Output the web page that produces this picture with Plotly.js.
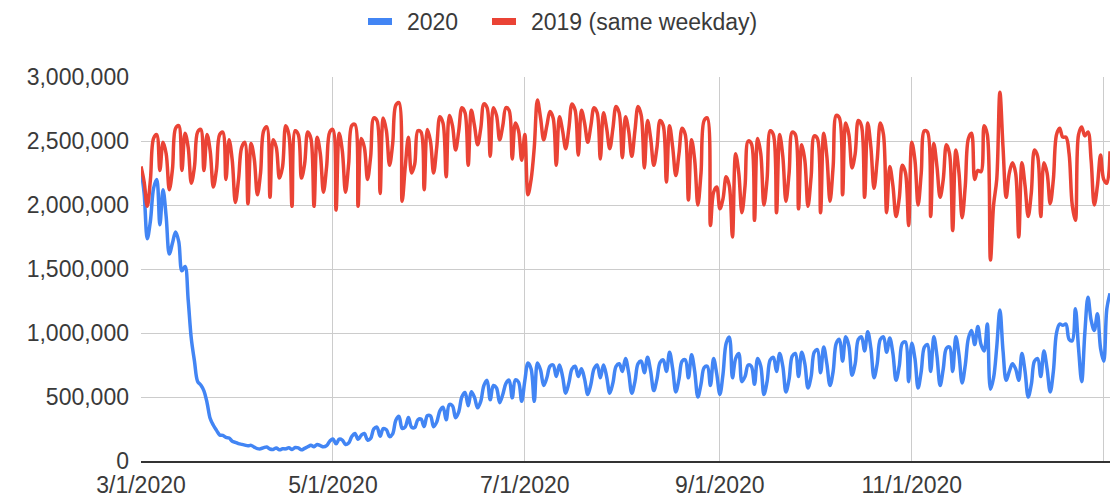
<!DOCTYPE html>
<html>
<head>
<meta charset="utf-8">
<script src="https://cdn.plot.ly/plotly-3.0.1.min.js"></script>
<style>
  html, body { margin: 0; padding: 0; background: #fff; }
  #chart { width: 1115px; height: 498px; }
</style>
</head>
<body>
<div id="chart"></div>
<script>
// Series names
const series2020Name = '2020';
const series2019Name = '2019 (same weekday)';

// Months covered (daily values, starting on day 1 of each month)
const months = ['2020-03','2020-04','2020-05','2020-06','2020-07','2020-08','2020-09','2020-10','2020-11','2020-12','2021-01'];

// 2020 daily checkpoint throughput, by month
const pax2020Mar = [2280522,2089641,1736393,1877401,2130015,2198517,1844811,2119867,1909363,1617220,1702686,1788456,1714372,1485553,1519192,1257823,953699,779631,620883,593167,548132,454516,331431,279018,239234,203858,199644,184027,180002,154080,146348];
const pax2020Apr = [136023,129763,124021,118302,122029,108310,97130,94931,104090,108977,93645,90510,102184,87534,95085,95000,103000,90000,105000,102000,87000,99000,111000,123000,112000,129000,120000,111000,120000,155000];
const pax2020May = [171563,134261,170254,163205,128556,140409,190863,215444,169580,200815,215645,163692,176667,250467,264843,193340,253190,244176,190477,212580,318449,348673,254239,267451,340769,264896,261170,321776,327133,268867,353261];
const pax2020Jun = [353016,267742,304436,391882,419675,322097,441255,430414,338382,383986,502209,534528,432317,540760,496897,416032,467211,590456,629954,478000,590000,570000,456000,520000,607000,632000,494000,633000,616000,467000];
const pax2020Jul = [627000,765000,719000,466000,765000,710000,590000,650000,740000,750000,660000,750000,660000,530000,610000,720000,740000,660000,720000,640000,520000,600000,720000,750000,650000,750000,660000,530000,610000,740000,760000];
const pax2020Aug = [700000,800000,690000,530000,620000,760000,780000,690000,810000,700000,550000,640000,770000,790000,700000,850000,720000,540000,640000,780000,790000,650000,830000,700000,500000,600000,730000,740000,590000,800000,680000];
const pax2020Sep = [520000,680000,920000,968000,650000,800000,840000,620000,660000,750000,740000,600000,800000,740000,520000,620000,790000,810000,700000,840000,740000,540000,640000,820000,840000,660000,850000,760000,570000,660000];
const pax2020Oct = [850000,870000,690000,890000,760000,590000,700000,920000,950000,780000,970000,900000,670000,760000,950000,970000,860000,1010000,880000,650000,760000,950000,970000,850000,960000,840000,630000,740000,920000,930000,620000];
const pax2020Nov = [920000,800000,570000,700000,890000,910000,700000,970000,820000,590000,720000,880000,890000,700000,970000,830000,610000,750000,960000,1020000,910000,1050000,910000,860000,1070000,560000,650000,890000,1180000,860000];
const pax2020Dec = [630000,700000,760000,720000,630000,840000,700000,500000,600000,780000,800000,660000,860000,720000,540000,700000,1000000,1070000,1060000,1070000,950000,940000,1190000,880000,620000,1000000,1280000,1100000,1020000,1150000,880000];
const pax2020Jan = [780000,1190000,1310000];

// 2019 throughput on the same weekday, by month of the 2020 date
const pax2019Mar = [2301000,2180000,1990000,2200000,2520000,2550000,2270000,2490000,2400000,2120000,2280000,2600000,2620000,2270000,2560000,2450000,2170000,2300000,2570000,2590000,2270000,2550000,2420000,2140000,2280000,2550000,2570000,2200000,2510000,2350000,2020000];
const pax2019Apr = [2200000,2450000,2490000,2010000,2480000,2360000,2080000,2250000,2580000,2610000,2060000,2510000,2450000,2210000,2300000,2620000,2550000,1990000,2580000,2550000,2210000,2320000,2570000,2520000,1990000,2530000,2400000,2100000,2300000,2570000];
const pax2019May = [2590000,1960000,2560000,2420000,2100000,2320000,2620000,2630000,1990000,2520000,2450000,2200000,2380000,2680000,2660000,2090000,2680000,2580000,2310000,2480000,2780000,2800000,2030000,2300000,2530000,2250000,2320000,2580000,2570000,2120000,2590000];
const pax2019Jun = [2500000,2250000,2450000,2690000,2640000,2220000,2700000,2620000,2430000,2580000,2760000,2720000,2310000,2740000,2620000,2470000,2600000,2790000,2760000,2380000,2760000,2700000,2510000,2620000,2760000,2740000,2360000,2640000,2580000,2350000];
const pax2019Jul = [2550000,2080000,2200000,2450000,2820000,2680000,2510000,2620000,2730000,2680000,2310000,2690000,2580000,2440000,2600000,2790000,2740000,2390000,2740000,2640000,2490000,2620000,2760000,2720000,2360000,2720000,2600000,2440000,2600000,2770000,2720000];
const pax2019Aug = [2370000,2690000,2580000,2380000,2580000,2770000,2700000,2290000,2660000,2520000,2310000,2450000,2660000,2620000,2180000,2620000,2450000,2230000,2400000,2600000,2550000,2040000,2510000,2350000,2000000,2250000,2660000,2680000,1840000,2100000,2140000];
const pax2019Sep = [1970000,2050000,2220000,2150000,1750000,2400000,2250000,1940000,2150000,2500000,2480000,1880000,2520000,2400000,2000000,2200000,2580000,2550000,1940000,2550000,2380000,2030000,2250000,2570000,2550000,1970000,2470000,2350000,1990000,2220000];
const pax2019Oct = [2540000,2520000,1940000,2560000,2380000,2030000,2300000,2700000,2680000,2080000,2640000,2550000,2290000,2400000,2660000,2620000,2060000,2640000,2450000,2130000,2350000,2640000,2550000,1940000,2300000,2150000,1910000,2050000,2310000,2250000,1840000];
const pax2019Nov = [2490000,2350000,2000000,2250000,2580000,2570000,1910000,2480000,2300000,2060000,2200000,2470000,2400000,1800000,2430000,2250000,1900000,2150000,2520000,2560000,2200000,2270000,2260000,2620000,2550000,1570000,2000000,2200000,2880000,2450000];
const pax2019Dec = [2060000,2250000,2330000,2250000,1750000,2330000,2150000,1910000,2100000,2430000,2380000,1910000,2330000,2250000,2010000,2200000,2550000,2600000,2530000,2530000,2400000,2000000,1880000,2550000,2610000,2540000,2570000,2350000,2000000,2150000,2390000];
const pax2019Jan = [2200000,2170000,2420000];

// X-axis tick labels
const tickDates  = ['2020-03-01','2020-05-01','2020-07-01','2020-09-01','2020-11-01','2021-01-01'];
const tickLabels = ['3/1/2020','5/1/2020','7/1/2020','9/1/2020','11/1/2020',''];

const months2020 = [pax2020Mar,pax2020Apr,pax2020May,pax2020Jun,pax2020Jul,pax2020Aug,pax2020Sep,pax2020Oct,pax2020Nov,pax2020Dec,pax2020Jan];
const months2019 = [pax2019Mar,pax2019Apr,pax2019May,pax2019Jun,pax2019Jul,pax2019Aug,pax2019Sep,pax2019Oct,pax2019Nov,pax2019Dec,pax2019Jan];

function flatten(monthArrays) {
  const x = [], y = [];
  monthArrays.forEach((arr, mi) => {
    arr.forEach((v, di) => {
      const day = String(di + 1).padStart(2, '0');
      x.push(months[mi] + '-' + day);
      y.push(v);
    });
  });
  return {x, y};
}

const d2020 = flatten(months2020);
const d2019 = flatten(months2019);

const BLUE = '#4285F4';
const RED = '#EA4335';
const FONT = 'Liberation Sans, Arial, sans-serif';
const TXT = '#3a3a3a';

const traces = [
  { x: d2020.x, y: d2020.y, type: 'scatter', mode: 'lines', name: series2020Name,
    line: { color: BLUE, width: 3.5, shape: 'spline', smoothing: 1 }, showlegend: false, hoverinfo: 'x+y' },
  { x: d2019.x, y: d2019.y, type: 'scatter', mode: 'lines', name: series2019Name,
    line: { color: RED, width: 3.5, shape: 'spline', smoothing: 1 }, showlegend: false, hoverinfo: 'x+y' }
];

// legend helpers (pixel -> paper coordinates)
const L = 141, R = 5, T = 77, B = 37, W = 1115, H = 498;
const PW = W - L - R, PH = H - T - B;
const px = v => (v - L) / PW;
const py = v => (H - B - v) / PH;

const layout = {
  width: W, height: H,
  margin: { l: L, r: R, t: T, b: B, pad: 0 },
  paper_bgcolor: '#ffffff', plot_bgcolor: '#ffffff',
  font: { family: FONT, size: 23, color: TXT },
  showlegend: false,
  xaxis: {
    type: 'date',
    range: ['2020-03-01', '2021-01-03'],
    tickmode: 'array', tickvals: tickDates, ticktext: tickLabels,
    showgrid: true, gridcolor: '#cccccc', gridwidth: 1,
    showline: true, linecolor: '#333333', linewidth: 2,
    ticks: '', ticklabelstandoff: 2,
    tickfont: { family: FONT, size: 23, color: TXT },
    zeroline: false, fixedrange: true
  },
  yaxis: {
    range: [0, 3000000],
    tickmode: 'linear', tick0: 0, dtick: 500000,
    tickformat: ',d',
    showgrid: true, gridcolor: '#cccccc', gridwidth: 1,
    showline: false, zeroline: false,
    ticks: '', ticklabelstandoff: 11,
    tickfont: { family: FONT, size: 23, color: TXT },
    fixedrange: true
  },
  shapes: [
    { type: 'rect', xref: 'paper', yref: 'paper', x0: px(368), x1: px(392), y0: py(25), y1: py(18),
      fillcolor: BLUE, line: { width: 0 }, layer: 'above' },
    { type: 'rect', xref: 'paper', yref: 'paper', x0: px(492), x1: px(516), y0: py(25), y1: py(18),
      fillcolor: RED, line: { width: 0 }, layer: 'above' }
  ],
  annotations: [
    { xref: 'paper', yref: 'paper', x: px(405), y: py(21.5), xanchor: 'left', yanchor: 'middle',
      text: series2020Name, showarrow: false, font: { family: FONT, size: 23, color: TXT } },
    { xref: 'paper', yref: 'paper', x: px(529), y: py(21.5), xanchor: 'left', yanchor: 'middle',
      text: series2019Name, showarrow: false, font: { family: FONT, size: 23, color: TXT } }
  ]
};

Plotly.newPlot('chart', traces, layout, { displayModeBar: false, staticPlot: true });
</script>
</body>
</html>
